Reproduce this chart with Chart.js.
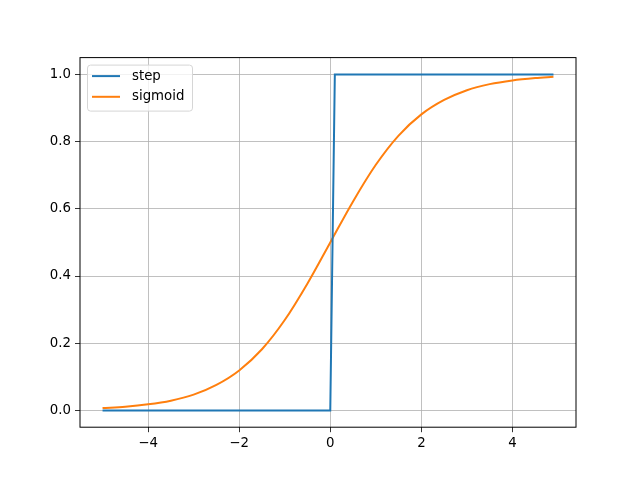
<!DOCTYPE html>
<html>
<head>
<meta charset="utf-8">
<script src="https://cdn.jsdelivr.net/npm/chart.js@4/dist/chart.umd.min.js"></script>
<style>
  html, body { margin: 0; padding: 0; background: #fff; }
  #wrap { width: 640px; height: 480px; position: relative; }
</style>
</head>
<body>
<div id="wrap"><canvas id="c" width="640" height="480"></canvas></div>
<script>
// step function breakpoints
const stepX = [-5, 0, 0.1, 4.9]
const stepY = [0, 0, 1, 1]

// sigmoid curve, sampled every 0.5
const sigX = [-5, -4.5, -4, -3.5, -3, -2.5, -2, -1.5, -1, -0.5, 0, 0.5, 1, 1.5, 2, 2.5, 3, 3.5, 4, 4.5, 4.9]
const sigY = [0.007, 0.011, 0.018, 0.029, 0.047, 0.076, 0.119, 0.182, 0.269, 0.378, 0.5,
  0.622, 0.731, 0.818, 0.881, 0.924, 0.953, 0.971, 0.982, 0.989, 0.993]

const xTicks = [-4, -2, 0, 2, 4]
const yTicks = [0, 0.2, 0.4, 0.6, 0.8, 1.0]

const pts = (xs, ys) => xs.map((x, i) => ({ x: x, y: ys[i] }))
const font = { family: 'DejaVu Sans', size: 13.33 }

// matplotlib style frame + legend box in upper left
const frame = {
  id: 'frame',
  afterDraw(chart) {
    const ctx = chart.ctx
    const a = chart.chartArea
    ctx.save()
    ctx.strokeStyle = '#000'
    ctx.lineWidth = 1
    ctx.strokeRect(a.left, a.top, a.right - a.left, a.bottom - a.top)

    const bx = a.left + 7, by = a.top + 7, bw = 105, bh = 46
    ctx.beginPath()
    ctx.roundRect(bx + 0.5, by + 0.5, bw, bh, 3)
    ctx.fillStyle = 'rgba(255,255,255,0.8)'
    ctx.fill()
    ctx.strokeStyle = '#d6d6d6'
    ctx.stroke()

    ctx.font = '13.33px "DejaVu Sans"'
    ctx.textBaseline = 'middle'
    chart.data.datasets.forEach((ds, i) => {
      const y = by + 11.5 + i * 20.7
      ctx.strokeStyle = ds.borderColor
      ctx.lineWidth = 2
      ctx.beginPath()
      ctx.moveTo(bx + 5, y)
      ctx.lineTo(bx + 33, y)
      ctx.stroke()
      ctx.fillStyle = '#000'
      ctx.fillText(ds.label, bx + 45, y)
    })
    ctx.restore()
  }
}

new Chart(document.getElementById('c'), {
  type: 'scatter',
  data: {
    datasets: [
      {
        label: 'step',
        data: pts(stepX, stepY),
        showLine: true,
        borderColor: '#1f77b4',
        borderWidth: 2,
        pointRadius: 0,
        tension: 0
      },
      {
        label: 'sigmoid',
        data: pts(sigX, sigY),
        showLine: true,
        borderColor: '#ff7f0e',
        borderWidth: 2,
        pointRadius: 0,
        cubicInterpolationMode: 'monotone'
      }
    ]
  },
  options: {
    responsive: false,
    animation: false,
    layout: { padding: { left: 0, right: 64, top: 57.6, bottom: 0 } },
    plugins: { legend: { display: false }, tooltip: { enabled: false } },
    scales: {
      x: {
        type: 'linear',
        min: -5.495,
        max: 5.395,
        afterBuildTicks: s => { s.ticks = xTicks.map(v => ({ value: v })) },
        afterFit: s => { s.height = 52.8 },
        grid: { color: '#b0b0b0', lineWidth: 0.8, tickColor: '#000', tickLength: 5 },
        border: { display: false },
        ticks: {
          color: '#000', font: font, padding: 3, maxRotation: 0,
          callback: v => (v < 0 ? '\u2212' + Math.abs(v) : String(v))
        }
      },
      y: {
        type: 'linear',
        min: -0.05,
        max: 1.05,
        afterBuildTicks: s => { s.ticks = yTicks.map(v => ({ value: v })) },
        afterFit: s => { s.width = 80 },
        grid: { color: '#b0b0b0', lineWidth: 0.8, tickColor: '#000', tickLength: 5 },
        border: { display: false },
        ticks: { color: '#000', font: font, padding: 4, callback: v => v.toFixed(1) }
      }
    }
  },
  plugins: [frame]
})
</script>
</body>
</html>
